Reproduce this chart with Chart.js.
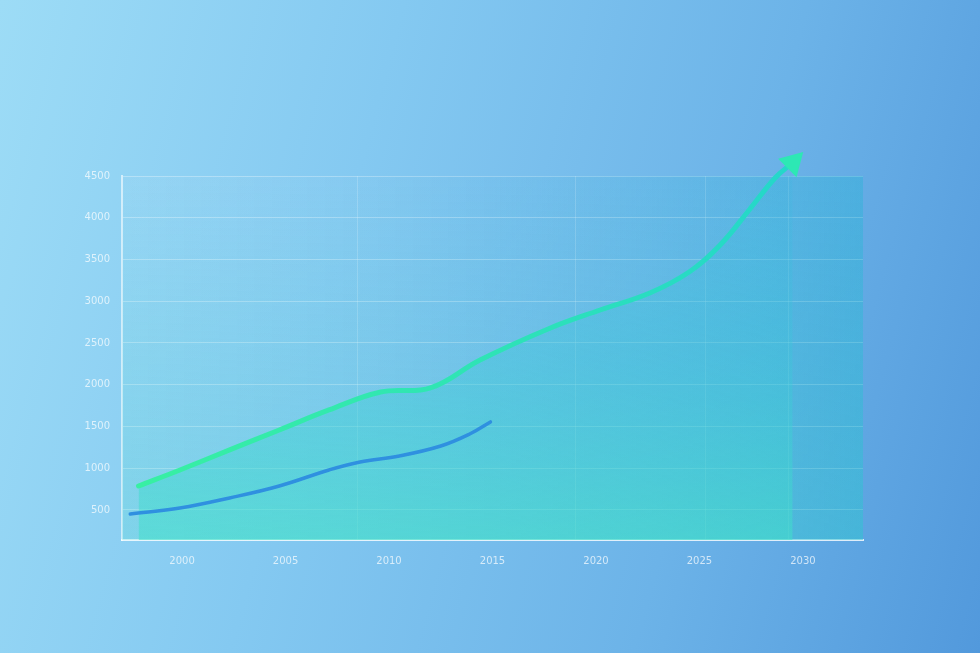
<!DOCTYPE html>
<html>
<head>
<meta charset="utf-8">
<script src="https://cdn.jsdelivr.net/npm/chart.js@4.4.1/dist/chart.umd.min.js"></script>
<style>
  html, body { margin: 0; padding: 0; width: 980px; height: 653px; overflow: hidden; }
  body { background: linear-gradient(105deg, #9ddcf6 0%, #84c9f1 35%, #6cb3e8 70%, #5299dc 100%); }
  #wrap { position: relative; width: 980px; height: 653px; }
</style>
</head>
<body>
<div id="wrap"><canvas id="grafico"></canvas></div>
<script>
// anos no eixo x e valores no eixo y
const anos = [2000, 2005, 2010, 2015, 2020, 2025, 2030];
const ticksY = [500, 1000, 1500, 2000, 2500, 3000, 3500, 4000, 4500];
const linhasVerticais = [2008.5, 2019.0, 2025.3, 2029.3];

// serie principal (verde, termina em seta)
const verdeX = [1997.9, 1999.9, 2002.3, 2004.7, 2007.1, 2009.6, 2012.0, 2014.4, 2017.8, 2020.2, 2022.6, 2024.5, 2026.0, 2027.4, 2028.65, 2029.5];
const verdeY = [787, 979, 1219, 1458, 1698, 1913, 1962, 2296, 2680, 2895, 3099, 3350, 3674, 4093, 4476, 4660];

// serie secundaria (azul)
const azulX = [1997.5, 1999.9, 2002.3, 2004.7, 2007.1, 2008.6, 2010.5, 2012.5, 2013.9, 2014.9];
const azulY = [452, 524, 644, 787, 979, 1075, 1147, 1266, 1410, 1554];

const ctx = document.getElementById('grafico').getContext('2d');

// fundo translucido da area do grafico
const fundoArea = {
    id: 'fundoArea',
    beforeDatasetsDraw(chart) {
        const { ctx, chartArea: a } = chart;
        const w = a.right - a.left, h = a.bottom - a.top;
        const g = ctx.createLinearGradient(a.left, 0, a.right, 0);
        g.addColorStop(0, 'rgba(255,255,255,0.04)');
        g.addColorStop(0.5, 'rgba(90,190,230,0.12)');
        g.addColorStop(1, 'rgba(40,180,215,0.40)');
        const v = ctx.createLinearGradient(0, a.top, 0, a.bottom);
        v.addColorStop(0, 'rgba(64,220,200,0)');
        v.addColorStop(1, 'rgba(64,220,200,0.22)');
        ctx.save();
        ctx.fillStyle = g;
        ctx.fillRect(a.left, a.top, w, h);
        ctx.fillStyle = v;
        ctx.fillRect(a.left, a.top, w, h);
        ctx.restore();
    }
};

function gradienteFill(context) {
    const a = context.chart.chartArea;
    if (!a) return 'rgba(60,210,200,0.4)';
    const c = context.chart.ctx;
    const g = c.createLinearGradient(0, a.top, 0, a.bottom);
    g.addColorStop(0, 'rgba(50,185,220,0.15)');
    g.addColorStop(0.5, 'rgba(55,200,215,0.35)');
    g.addColorStop(1, 'rgba(64,225,200,0.55)');
    return g;
}

function gradienteVerde(context) {
    const a = context.chart.chartArea;
    if (!a) return '#2fe0b0';
    const g = context.chart.ctx.createLinearGradient(a.left, 0, a.right, 0);
    g.addColorStop(0, '#38f0a2');
    g.addColorStop(0.5, '#2ee3b6');
    g.addColorStop(1, '#22d4cf');
    return g;
}

const ultimo = verdeX.length - 1;

window.myChart = new Chart(ctx, {
    type: 'line',
    data: {
        datasets: [
            {
                label: 'verde',
                data: verdeX.map((x, i) => ({ x: x, y: verdeY[i] })),
                borderColor: gradienteVerde,
                backgroundColor: gradienteFill,
                fill: 'start',
                borderWidth: 5,
                tension: 0.4,
                borderCapStyle: 'round',
                clip: false,
                pointRadius: verdeX.map((x, i) => i === ultimo ? 15 : 0),
                pointStyle: 'triangle',
                pointRotation: 45,
                pointBackgroundColor: '#2de8b4',
                pointBorderColor: '#2de8b4',
                pointBorderWidth: 0,
                order: 2
            },
            {
                label: 'azul',
                data: azulX.map((x, i) => ({ x: x, y: azulY[i] })),
                borderColor: '#2f90e0',
                fill: false,
                borderWidth: 3.5,
                tension: 0.4,
                borderCapStyle: 'round',
                pointRadius: 0,
                order: 1
            }
        ]
    },
    options: {
        responsive: true,
        maintainAspectRatio: false,
        animation: false,
        layout: { padding: { left: 0, top: 176, right: 117, bottom: 73 } },
        plugins: { legend: { display: false }, tooltip: { enabled: false } },
        scales: {
            x: {
                type: 'linear',
                min: 1997.1,
                max: 2032.9,
                afterBuildTicks: s => { s.ticks = anos.map(v => ({ value: v })); },
                afterFit: s => { s.height = 40; },
                grid: { display: false, drawTicks: false },
                border: { display: true, color: 'rgba(255,255,255,0.8)', width: 2 },
                ticks: {
                    color: 'rgba(255,255,255,0.7)',
                    font: { family: 'DejaVu Sans', size: 10 },
                    padding: 15,
                    callback: v => String(v)
                }
            },
            xg: {
                type: 'linear',
                position: 'bottom',
                min: 1997.1,
                max: 2032.9,
                display: true,
                afterBuildTicks: s => { s.ticks = linhasVerticais.map(v => ({ value: v })); },
                afterFit: s => { s.height = 0; },
                grid: { color: 'rgba(255,255,255,0.2)', lineWidth: 1, drawTicks: false },
                border: { display: false },
                ticks: { display: false }
            },
            y: {
                min: 140,
                max: 4500,
                afterBuildTicks: s => { s.ticks = ticksY.map(v => ({ value: v })); },
                afterFit: s => { s.width = 122; },
                grid: { color: 'rgba(255,255,255,0.3)', lineWidth: 1, drawTicks: false },
                border: { display: true, color: 'rgba(255,255,255,0.6)', width: 2 },
                ticks: {
                    color: 'rgba(255,255,255,0.7)',
                    font: { family: 'DejaVu Sans', size: 10 },
                    padding: 12,
                    callback: v => String(v)
                }
            }
        }
    },
    plugins: [fundoArea]
});
</script>
</body>
</html>
